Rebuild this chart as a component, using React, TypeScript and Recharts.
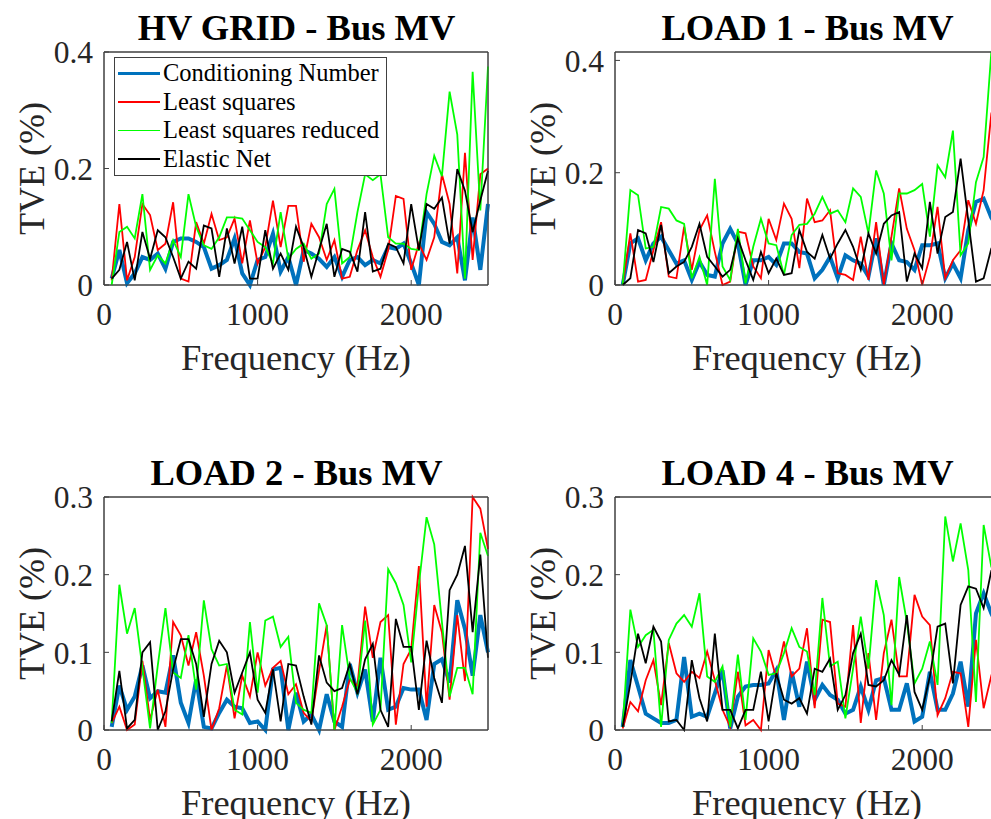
import React from "react";
import { LineChart, Line, XAxis, YAxis, Legend, ReferenceArea } from "recharts";

const freq = [
  50, 100, 150, 200, 250, 300, 350, 400, 450, 500, 550, 600, 650, 700, 750, 800, 850, 900, 950, 1000,
  1050, 1100, 1150, 1200, 1250, 1300, 1350, 1400, 1450, 1500, 1550, 1600, 1650, 1700, 1750, 1800, 1850,
  1900, 1950, 2000, 2050, 2100, 2150, 2200, 2250, 2300, 2350, 2400, 2450, 2500,
];

// HV GRID - Bus MV
const hvCond = [0.011,0.06,0.003,0.02,0.048,0.043,0.054,0.028,0.074,0.08,0.08,0.074,0.065,0.028,0.034,0.043,0.08,0.02,0.0,0.043,0.048,0.088,0.023,0.048,0.0,0.06,0.054,0.045,0.031,0.048,0.014,0.043,0.048,0.034,0.043,0.037,0.065,0.062,0.071,0.037,0.0,0.125,0.105,0.074,0.068,0.082,0.008,0.116,0.026,0.139];
const hvLs = [0.008,0.139,0.008,0.048,0.139,0.12,0.06,0.071,0.142,0.011,0.006,0.108,0.071,0.122,0.077,0.082,0.114,0.037,0.111,0.037,0.065,0.145,0.065,0.136,0.136,0.04,0.105,0.082,0.043,0.077,0.011,0.014,0.06,0.094,0.048,0.014,0.06,0.153,0.148,0.026,0.071,0.043,0.082,0.19,0.139,0.02,0.227,0.043,0.19,0.2];
const hvLsr = [0.0,0.091,0.1,0.08,0.156,0.026,0.051,0.037,0.077,0.048,0.156,0.1,0.068,0.062,0.082,0.116,0.116,0.114,0.094,0.074,0.065,0.037,0.125,0.045,0.062,0.071,0.045,0.054,0.139,0.165,0.037,0.048,0.125,0.19,0.18,0.19,0.082,0.071,0.071,0.062,0.06,0.156,0.222,0.187,0.332,0.258,0.011,0.366,0.128,0.375];
const hvEn = [0.011,0.026,0.074,0.008,0.091,0.045,0.094,0.082,0.048,0.011,0.04,0.028,0.102,0.097,0.014,0.097,0.037,0.1,0.011,0.011,0.094,0.028,0.054,0.026,0.1,0.065,0.014,0.06,0.105,0.014,0.062,0.057,0.023,0.125,0.023,0.028,0.071,0.065,0.037,0.139,0.06,0.139,0.131,0.15,0.071,0.199,0.162,0.091,0.145,0.196];

// LOAD 1 - Bus MV
const l1Cond = [0.0,0.074,0.083,0.044,0.074,0.086,0.062,0.038,0.044,0.009,0.041,0.018,0.015,0.074,0.1,0.074,0.0,0.044,0.044,0.05,0.036,0.074,0.074,0.059,0.056,0.012,0.027,0.05,0.012,0.053,0.044,0.038,0.015,0.083,0.0,0.074,0.044,0.041,0.027,0.071,0.071,0.074,0.012,0.038,0.012,0.098,0.148,0.154,0.12,0.1];
const l1Ls = [0.0,0.092,0.006,0.009,0.062,0.112,0.015,0.012,0.104,0.027,0.098,0.124,0.059,0.0,0.006,0.095,0.092,0.033,0.012,0.118,0.08,0.145,0.118,0.03,0.154,0.112,0.115,0.133,0.021,0.018,0.009,0.086,0.009,0.112,0.0,0.086,0.172,0.1,0.062,0.0,0.05,0.139,0.012,0.044,0.062,0.151,0.109,0.169,0.305,0.35];
const l1Lsr = [0.0,0.169,0.16,0.065,0.068,0.139,0.136,0.115,0.109,0.012,0.05,0.0,0.189,0.033,0.009,0.1,0.003,0.068,0.118,0.074,0.071,0.018,0.089,0.107,0.109,0.127,0.157,0.127,0.133,0.112,0.172,0.157,0.092,0.204,0.163,0.044,0.163,0.163,0.169,0.18,0.086,0.213,0.192,0.275,0.053,0.074,0.183,0.228,0.415,0.33];
const l1En = [0.0,0.012,0.098,0.092,0.041,0.107,0.021,0.033,0.041,0.068,0.109,0.05,0.033,0.015,0.027,0.083,0.044,0.009,0.059,0.021,0.047,0.018,0.021,0.098,0.059,0.047,0.089,0.047,0.074,0.098,0.068,0.027,0.092,0.056,0.109,0.124,0.13,0.006,0.056,0.03,0.148,0.056,0.121,0.13,0.225,0.115,0.006,0.012,0.065,0.08];

// LOAD 2 - Bus MV
const l2Cond = [0.004,0.057,0.026,0.043,0.083,0.041,0.05,0.048,0.096,0.035,0.009,0.065,0.004,0.002,0.022,0.039,0.03,0.028,0.009,0.011,0.0,0.078,0.08,0.0,0.048,0.011,0.02,0.0,0.046,0.011,0.004,0.085,0.048,0.078,0.011,0.093,0.026,0.03,0.054,0.052,0.052,0.013,0.085,0.091,0.061,0.167,0.13,0.07,0.148,0.1];
const l2Ls = [0.009,0.03,0.0,0.007,0.089,0.013,0.052,0.004,0.139,0.122,0.083,0.126,0.07,0.0,0.028,0.083,0.015,0.07,0.043,0.1,0.057,0.08,0.089,0.046,0.059,0.022,0.011,0.076,0.135,0.0,0.03,0.065,0.057,0.159,0.093,0.139,0.148,0.007,0.085,0.104,0.211,0.03,0.161,0.126,0.039,0.148,0.063,0.3,0.285,0.233];
const l2Lsr = [0.009,0.187,0.124,0.157,0.08,0.002,0.083,0.157,0.074,0.067,0.122,0.052,0.167,0.104,0.083,0.085,0.026,0.02,0.139,0.048,0.141,0.146,0.107,0.12,0.035,0.026,0.022,0.163,0.135,0.0,0.135,0.067,0.048,0.141,0.007,0.026,0.207,0.189,0.161,0.087,0.187,0.274,0.239,0.139,0.043,0.08,0.08,0.046,0.254,0.224];
const l2En = [0.011,0.076,0.002,0.013,0.1,0.113,0.0,0.024,0.078,0.117,0.117,0.085,0.017,0.085,0.115,0.1,0.048,0.074,0.1,0.039,0.022,0.078,0.011,0.085,0.083,0.043,0.007,0.096,0.061,0.05,0.054,0.085,0.046,0.091,0.111,0.026,0.004,0.143,0.107,0.107,0.026,0.115,0.067,0.035,0.18,0.2,0.237,0.126,0.226,0.093];

// LOAD 4 - Bus MV
const l4Cond = [0.004,0.09,0.056,0.021,0.015,0.009,0.009,0.013,0.094,0.017,0.021,0.017,0.047,0.077,0.002,0.043,0.056,0.058,0.058,0.06,0.077,0.013,0.075,0.03,0.088,0.039,0.058,0.045,0.039,0.021,0.026,0.056,0.026,0.064,0.067,0.026,0.026,0.06,0.011,0.017,0.075,0.026,0.026,0.047,0.088,0.03,0.15,0.176,0.15,0.13];
const l4Ls = [0.002,0.036,0.024,0.064,0.09,0.032,0.112,0.073,0.062,0.075,0.067,0.101,0.064,0.026,0.004,0.075,0.006,0.013,0.0,0.103,0.067,0.114,0.069,0.079,0.131,0.028,0.142,0.139,0.034,0.03,0.135,0.009,0.099,0.013,0.099,0.142,0.069,0.069,0.174,0.146,0.135,0.019,0.041,0.075,0.073,0.004,0.116,0.028,0.07,0.1];
const l4Lsr = [0.004,0.155,0.107,0.122,0.129,0.004,0.116,0.137,0.148,0.133,0.176,0.069,0.062,0.082,0.004,0.097,0.013,0.118,0.101,0.071,0.073,0.099,0.131,0.107,0.101,0.045,0.17,0.082,0.088,0.015,0.079,0.146,0.079,0.193,0.148,0.032,0.197,0.139,0.06,0.079,0.114,0.058,0.275,0.217,0.266,0.206,0.036,0.264,0.21,0.2];
const l4En = [0.004,0.06,0.124,0.086,0.133,0.114,0.011,0.013,0.0,0.09,0.041,0.011,0.124,0.026,0.026,0.002,0.026,0.026,0.075,0.011,0.073,0.039,0.034,0.041,0.021,0.079,0.075,0.092,0.026,0.045,0.099,0.124,0.058,0.056,0.064,0.09,0.071,0.148,0.049,0.026,0.069,0.133,0.137,0.06,0.161,0.185,0.182,0.157,0.205,0.21];

const seriesNames = ["Conditioning Number", "Least squares", "Least squares reduced", "Elastic Net"];
const seriesKeys = ["cond", "ls", "lsr", "en"];
const seriesColors = ["#0072BD", "#FF0000", "#00FF00", "#000000"];
const seriesWidths = [4, 1.8, 1.8, 1.8];

const xTicks = [0, 1000, 2000];

const FONT = '"Liberation Serif", "Times New Roman", serif';
const AXIS = "#404040";
const TEXT = "#262626";

// plot area is 385 x 234, axes take 100px on the left and below
const PW = 385;
const PH = 234;
const YW = 100;
const XH = 100;
const MT = 50;
const MR = 10;

function LegendBox() {
  return (
    <div
      style={{
        border: `1px solid ${AXIS}`,
        background: "#fff",
        width: 271,
        padding: "1px 0 2px 0",
        fontFamily: FONT,
        fontSize: 24.5,
        color: "#000",
        lineHeight: 1,
      }}
    >
      {seriesNames.map((n, i) => (
        <div key={n} style={{ display: "flex", alignItems: "center", height: 28.6 }}>
          <div
            style={{
              width: 42,
              height: seriesWidths[i] - 0.5,
              background: seriesColors[i],
              marginLeft: 3,
              marginRight: 3,
            }}
          />
          <span>{n}</span>
        </div>
      ))}
    </div>
  );
}

function Panel({ title, plotLeft, plotTop, yMax, yTicks, vals, legend }: any) {
  const data = freq.map((f, i) => ({
    f,
    cond: vals[0][i],
    ls: vals[1][i],
    lsr: vals[2][i],
    en: vals[3][i],
  }));
  return (
    <>
      <svg
        style={{ position: "absolute", left: plotLeft - 40, top: plotTop - 50 }}
        width={PW + 80}
        height={50}
      >
        <text
          x={PW / 2 + 40}
          y={39}
          textAnchor="middle"
          fontSize={36.5}
          fontWeight="bold"
          fontFamily={FONT}
          fill="#000"
        >
          {title}
        </text>
      </svg>
      <div style={{ position: "absolute", left: plotLeft - YW, top: plotTop - MT }}>
        <LineChart
          width={YW + PW + MR}
          height={MT + PH + XH}
          data={data}
          margin={{ top: MT, right: MR, bottom: 0, left: 0 }}
        >
          <XAxis
            dataKey="f"
            type="number"
            domain={[0, 2500]}
            ticks={xTicks}
            height={XH}
            stroke={AXIS}
            tickSize={-5}
            tickMargin={23}
            tick={{ fontSize: 31.5, fill: TEXT, fontFamily: FONT }}
            label={{
              value: "Frequency (Hz)",
              position: "insideBottom",
              offset: 15,
              fontSize: 36.5,
              fill: TEXT,
              fontFamily: FONT,
            }}
          />
          <XAxis
            xAxisId="top"
            orientation="top"
            dataKey="f"
            type="number"
            domain={[0, 2500]}
            ticks={xTicks}
            height={1}
            stroke={AXIS}
            tickSize={-5}
            tick={false}
          />
          <YAxis
            type="number"
            domain={[0, yMax]}
            ticks={yTicks}
            width={YW}
            stroke={AXIS}
            tickSize={-5}
            tickMargin={16}
            tick={{ fontSize: 31.5, fill: TEXT, fontFamily: FONT }}
            label={{
              value: "TVE (%)",
              angle: -90,
              position: "insideLeft",
              offset: 27,
              fontSize: 36,
              fill: TEXT,
              fontFamily: FONT,
              style: { textAnchor: "middle" },
            }}
          />
          <YAxis
            yAxisId="right"
            orientation="right"
            type="number"
            domain={[0, yMax]}
            ticks={yTicks}
            width={1}
            stroke={AXIS}
            tickSize={-5}
            tick={false}
          />
          <ReferenceArea
            x1={0}
            x2={2500}
            y1={0}
            y2={yMax}
            fill="none"
            fillOpacity={0}
            stroke={AXIS}
            strokeWidth={1}
          />
          {legend && (
            <Legend
              layout="vertical"
              align="center"
              verticalAlign="middle"
              content={() => <LegendBox />}
              wrapperStyle={{ left: 110, top: 56, width: 273 }}
            />
          )}
          {seriesKeys.map((k, i) => (
            <Line
              key={k}
              dataKey={k}
              name={seriesNames[i]}
              type="linear"
              stroke={seriesColors[i]}
              strokeWidth={seriesWidths[i]}
              dot={false}
              activeDot={false}
              isAnimationActive={false}
            />
          ))}
        </LineChart>
      </div>
    </>
  );
}

export default function App() {
  return (
    <div
      style={{
        position: "fixed",
        left: 0,
        top: 0,
        width: 991,
        height: 819,
        overflow: "hidden",
        background: "#fff",
        fontFamily: FONT,
      }}
    >
      <Panel
        title="HV GRID - Bus MV"
        plotLeft={104}
        plotTop={51}
        yMax={0.4}
        yTicks={[0, 0.2, 0.4]}
        vals={[hvCond, hvLs, hvLsr, hvEn]}
        legend
      />
      <Panel
        title="LOAD 1 - Bus MV"
        plotLeft={615}
        plotTop={51}
        yMax={0.415}
        yTicks={[0, 0.2, 0.4]}
        vals={[l1Cond, l1Ls, l1Lsr, l1En]}
      />
      <Panel
        title="LOAD 2 - Bus MV"
        plotLeft={104}
        plotTop={496}
        yMax={0.3}
        yTicks={[0, 0.1, 0.2, 0.3]}
        vals={[l2Cond, l2Ls, l2Lsr, l2En]}
      />
      <Panel
        title="LOAD 4 - Bus MV"
        plotLeft={615}
        plotTop={496}
        yMax={0.3}
        yTicks={[0, 0.1, 0.2, 0.3]}
        vals={[l4Cond, l4Ls, l4Lsr, l4En]}
      />
    </div>
  );
}
